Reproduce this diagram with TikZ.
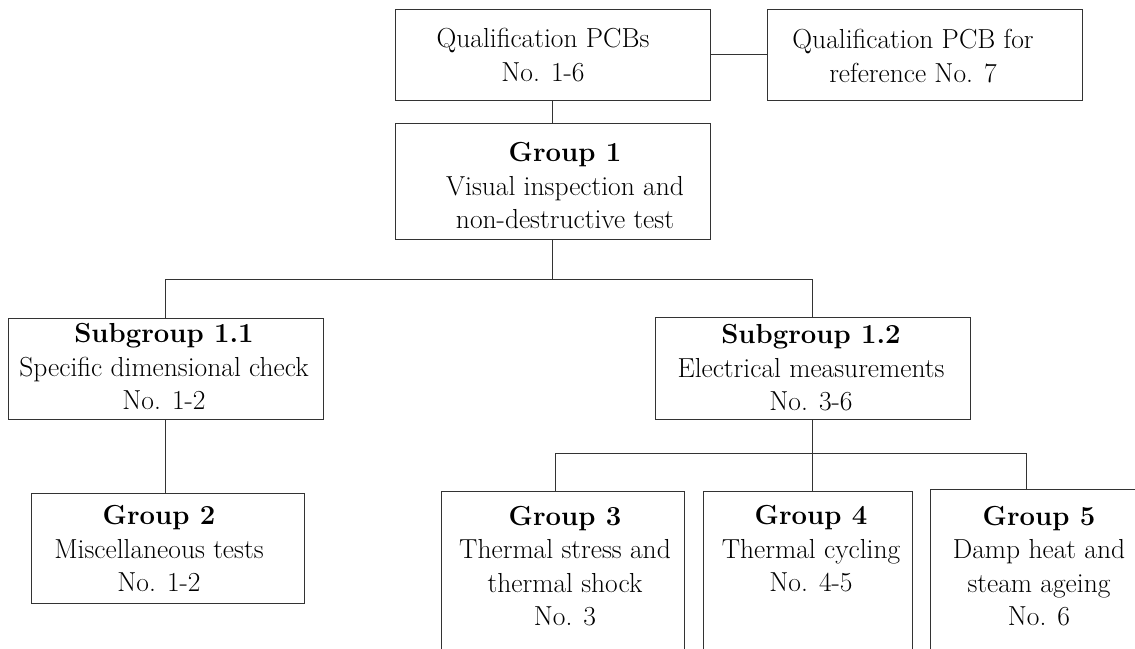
\documentclass[tikz,border=0pt]{standalone}
\begin{document}
\begin{tikzpicture}[x=1pt,y=-1pt,
  box/.style={draw=black!80, line width=1pt, inner sep=0pt},
  conn/.style={draw=black!80, line width=1pt},
  txt/.style={align=center, inner sep=0pt, font=\fontsize{27.5}{33.5}\selectfont}]
\useasboundingbox (0,0) rectangle (1135,648);
\clip (0,0) rectangle (1135,648);
% boxes
\node[box, minimum width=315pt, minimum height=91pt]  (a)   at (552.5,54.5) {};
\node[box, minimum width=315pt, minimum height=91pt]  (b)   at (924.5,54.5) {};
\node[box, minimum width=315pt, minimum height=116pt] (g1)  at (552.5,181) {};
\node[box, minimum width=315pt, minimum height=101pt] (s11) at (165.5,368.5) {};
\node[box, minimum width=315pt, minimum height=102pt] (s12) at (812.5,368) {};
\node[box, minimum width=273pt, minimum height=110pt] (g2)  at (167.5,548) {};
\node[box, minimum width=243pt, minimum height=209pt] (g3)  at (562.5,595.5) {};
\node[box, minimum width=209pt, minimum height=209pt] (g4)  at (807.5,595.5) {};
\node[box, minimum width=250pt, minimum height=211pt] (g5)  at (1055,594.5) {};
% texts
\node[txt] (ta)   at (543,55)  {Qualification PCBs\\No. 1-6};
\node[txt] (tb)   at (913,56)  {Qualification PCB for\\reference No. 7};
\node[txt] (tg1)  at (565,186) {\textbf{Group 1}\\Visual inspection and\\non-destructive test};
\node[txt] (ts11) at (164,367) {\textbf{Subgroup 1.1}\\Specific dimensional check\\No. 1-2};
\node[txt] (ts12) at (811,368) {\textbf{Subgroup 1.2}\\Electrical measurements\\No. 3-6};
\node[txt] (tg2)  at (159,549) {\textbf{Group 2}\\Miscellaneous tests\\No. 1-2};
\node[txt] (tg3)  at (565,566) {\textbf{Group 3}\\Thermal stress and\\thermal shock\\No. 3};
\node[txt] (tg4)  at (811,549) {\textbf{Group 4}\\Thermal cycling\\No. 4-5};
\node[txt] (tg5)  at (1039,566) {\textbf{Group 5}\\Damp heat and\\steam ageing\\No. 6};
% connectors
\draw[conn] (a.east) -- (b.west);
\draw[conn] (a.south) -- (g1.north);
\coordinate (j1) at (552.5,279);
\draw[conn] (g1.south) -- (j1);
\draw[conn] (s11.north) -- (s11.north |- j1) -- (s12.north |- j1) -- (s12.north);
\draw[conn] (s11.south) -- (s11.south |- g2.north);
\coordinate (j2) at (812.5,453);
\coordinate (g3t) at ([xshift=-7.5pt]g3.north);
\coordinate (g5t) at ([xshift=-29pt]g5.north);
\draw[conn] (s12.south) -- (s12.south |- g4.north);
\draw[conn] (g3t) -- (g3t |- j2) -- (g5t |- j2) -- (g5t);
\end{tikzpicture}
\end{document}
